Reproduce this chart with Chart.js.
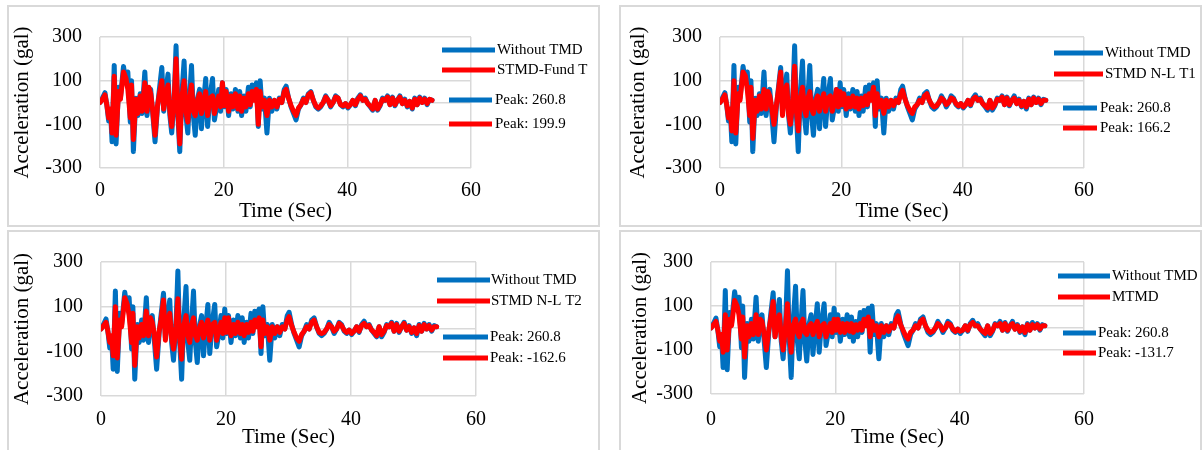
<!DOCTYPE html>
<html>
<head>
<meta charset="utf-8">
<script src="https://cdn.jsdelivr.net/npm/chart.js@4.4.0/dist/chart.umd.min.js"></script>
<style>
  body { margin: 0; background: #fff; width: 1202px; height: 450px; overflow: hidden; position: relative; }
  .panel { position: absolute; box-sizing: border-box; border: 2px solid #d9d9d9; background: #fff; }
  .panel canvas { position: absolute; left: 0; top: 0; }
</style>
</head>
<body>
<div class="panel" id="p0"><canvas id="c0"></canvas></div>
<div class="panel" id="p1"><canvas id="c1"></canvas></div>
<div class="panel" id="p2"><canvas id="c2"></canvas></div>
<div class="panel" id="p3"><canvas id="c3"></canvas></div>
<script>
// time of each sample (s), shared by all series
const timeSec = [0,0.4,0.8,1.1,1.4,1.7,1.95,2.3,2.6,3.0,3.3,3.8,4.2,4.5,4.9,5.1,5.4,5.8,6.1,6.5,
  6.8,7.25,7.6,7.9,8.2,8.5,8.9,9.3,9.6,10.0,10.3,10.6,11.0,11.3,11.6,12.0,12.3,12.6,12.9,13.2,
  13.6,13.9,14.2,14.5,14.8,15.1,15.4,15.8,16.1,16.4,16.8,17.1,17.4,17.8,18.2,18.5,18.8,19.2,19.5,19.8,
  20.1,20.4,20.8,21.2,21.5,21.9,22.3,22.6,22.9,23.3,23.6,24.0,24.3,24.6,24.9,25.3,25.6,25.9,26.2,26.6,
  27.0,27.4,27.8,28.2,28.6,29.0,29.4,29.8,30.1,30.5,30.9,31.3,31.7,32.1,32.5,32.9,33.3,33.7,34.1,34.5,
  34.9,35.3,35.7,36.1,36.5,36.9,37.3,37.7,38.1,38.5,38.9,39.3,39.7,40.1,40.5,40.9,41.3,41.7,42.1,42.5,
  42.9,43.3,43.7,44.1,44.5,44.9,45.3,45.7,46.1,46.5,46.9,47.3,47.7,48.1,48.5,48.9,49.3,49.7,50.1,50.5,
  50.9,51.3,51.7,52.1,52.5,52.9,53.3,53.7];

// acceleration (gal)
const withoutTmd = [0,20,45,-10,-85,-40,-180,170,-190,70, 20,165,90,140,-90,100,-225,20,-60,40,
  -50,140,-60,30,60,-40,-180,-20,60,160, -40,40,130,-60,-140,20,260,-60,-225,20,
  190,-60,-140,30,170,-60,-150,20,60,-120, 20,110,-110,30,110,-80,-30,60,-40,90,
  -20,60,-60,40,-30,60,-40,50,-60,30, -40,70,-20,80,20,90,-110,100,-30,20,
  -140,20,-40,10,-30,20,0,60,75,20, -20,-50,-80,-30,-10,20,0,40,50,10,
  -20,-30,-20,0,30,10,-20,0,30,20, -10,-20,-5,-25,-10,10,-15,20,35,10,
  20,-5,-20,-35,10,-35,-15,20,10,30, -10,25,-15,10,30,-5,15,-20,5,-30,
  20,-10,25,0,20,-10,15,10];

const stmdFundT = [0,15,35,-10,-70,-30,-140,120,-150,50, 15,140,110,60,-70,80,-170,15,-50,30,
  -40,90,-40,70,40,-30,-150,-15,40,100, -30,30,80,-40,-110,15,200,-40,-190,15,
  100,-40,-90,20,80,-40,-60,15,40,-50, 10,50,-60,20,30,-50,-10,30,-20,90,
  -15,50,-40,30,-20,40,-30,30,-40,20, -20,40,-10,50,10,60,-100,50,-20,10,
  -60,10,-20,10,-20,15,0,50,60,20, -15,-40,-60,-25,-10,15,0,35,45,10,
  -15,-25,-15,0,25,10,-15,0,25,20, -10,-15,-5,-20,-10,10,-10,15,30,10,
  15,-5,-15,-30,10,-30,-10,15,10,25, -10,20,-10,10,25,-5,10,-15,5,-25,
  15,-10,20,0,15,-5,15,10];

const stmdNLT1 = [0,15,35,-10,-70,-30,-130,100,-140,40, 10,140,120,60,-60,70,-165,10,-40,30,
  -30,60,-30,50,30,-20,-100,-10,50,140, -60,30,80,-50,-100,10,166,-40,-130,10,
  70,-30,-60,20,50,-30,-50,10,30,-40, 10,40,-40,20,30,-40,-10,60,-20,50,
  -10,40,-30,20,-20,30,-20,20,-30,20, -15,30,-10,40,10,70,-60,40,-20,10,
  -50,10,-20,10,-15,10,0,40,55,15, -15,-35,-50,-20,-10,10,0,30,40,10,
  -10,-20,-15,0,20,10,-10,0,20,15, -5,-15,-5,-20,-10,10,-10,15,25,10,
  15,-5,-15,-25,10,-25,-10,15,10,25, -10,20,-10,10,20,-5,10,-15,5,-20,
  15,-10,20,0,15,-5,10,10];

const stmdNLT2 = [0,15,30,-10,-60,-30,-120,100,-130,40, 10,140,110,60,-60,70,-163,10,-40,20,
  -30,80,-30,50,30,-20,-125,-10,40,130, -50,30,70,-40,-90,10,135,-40,-135,10,
  60,-30,-60,20,50,-30,-50,10,30,-40, 10,40,-50,20,30,-50,-10,30,-20,50,
  -15,50,-30,20,-20,30,-20,20,-30,20, -15,30,-10,40,10,50,-80,40,-20,10,
  -50,10,-20,10,-15,10,0,40,55,15, -15,-40,-55,-25,-10,10,0,30,40,10,
  -15,-20,-15,0,20,10,-10,0,25,15, -5,-15,-5,-20,-10,10,-10,15,25,10,
  15,-5,-15,-30,10,-25,-10,15,10,25, -10,20,-10,10,25,-5,10,-15,5,-20,
  15,-10,20,0,15,-5,10,10];

const mtmd = [0,15,30,-10,-60,-30,-110,60,-100,40, 10,125,100,60,-50,50,-132,10,-40,20,
  -30,60,-30,40,30,-20,-100,-10,40,120, -40,20,60,-40,-100,10,110,-30,-110,10,
  40,-20,-40,20,40,-20,-30,10,20,-30, 10,30,-40,10,20,-40,-10,20,-20,40,
  -10,40,-20,20,-20,20,-15,20,-20,15, -10,20,-10,40,10,50,-40,30,-10,10,
  -40,10,-20,10,-15,10,0,40,55,15, -10,-35,-50,-20,-10,10,0,30,40,10,
  -10,-20,-15,0,20,10,-10,0,20,15, -5,-15,-5,-15,-10,10,-10,15,25,10,
  10,-5,-15,-25,10,-25,-10,15,10,20, -10,20,-10,10,20,-5,10,-15,5,-20,
  15,-10,15,0,15,-5,10,10];

const xTicks = [0, 20, 40, 60];
const yTicks = [-300, -100, 0, 100, 300];
const yTickLabels = ["-300", "-100", "", "100", "300"];
const redNames = ["STMD-Fund T", "STMD N-L T1", "STMD N-L T2", "MTMD"];
const peakLabels = [["Peak: 260.8", "Peak: 199.9"], ["Peak: 260.8", "Peak: 166.2"],
                    ["Peak: 260.8", "Peak: -162.6"], ["Peak: 260.8", "Peak: -131.7"]];

const BLUE = "#0070C0";
const RED = "#FF0000";
const GRID = "#d9d9d9";
const SERIF = "'Liberation Serif', 'Times New Roman', serif";

// page layout, absolute pixels
const panels = [
  { box: [7, 5, 600, 227], plot: [100, 24, 471, 168], tickY: 189, titleY: 211, titleX: 22, red: stmdFundT,
    leg: { x1: 442, x2: 495, tx: 497, px1: 449, px2: 492, ptx: 495, ys: [50, 70, 100, 124] } },
  { box: [619, 5, 1202, 227], plot: [720, 25, 1084, 168], tickY: 189, titleY: 211, titleX: 638, red: stmdNLT1,
    leg: { x1: 1054, x2: 1103, tx: 1105, px1: 1063, px2: 1097, ptx: 1100, ys: [53, 74, 108, 128] } },
  { box: [7, 230, 600, 452], plot: [101, 252, 476, 396], tickY: 418, titleY: 437, titleX: 22, red: stmdNLT2,
    leg: { x1: 437, x2: 490, tx: 491, px1: 443, px2: 488, ptx: 490, ys: [280, 301, 337, 358] } },
  { box: [619, 230, 1202, 452], plot: [711, 250, 1084, 394], tickY: 418, titleY: 437, titleX: 640, red: mtmd,
    leg: { x1: 1058, x2: 1110, tx: 1112, px1: 1063, px2: 1096, ptx: 1098, ys: [276, 297, 333, 353] } }
];

function toPoints(values) {
  return timeSec.map((t, i) => ({ x: t, y: values[i] }));
}

function makePanel(idx) {
  const p = panels[idx];
  const div = document.getElementById("p" + idx);
  div.style.left = p.box[0] + "px";
  div.style.top = p.box[1] + "px";
  div.style.width = (p.box[2] - p.box[0]) + "px";
  div.style.height = (p.box[3] - p.box[1]) + "px";

  const ox = p.box[0] + 2, oy = p.box[1] + 2;
  const w = p.box[2] - p.box[0] - 4, h = p.box[3] - p.box[1] - 4;
  const canvas = document.getElementById("c" + idx);
  canvas.width = w;
  canvas.height = h;

  const tickSize = 20, titleSize = 21;
  const plotL = p.plot[0] - ox, plotT = p.plot[1] - oy, plotR = p.plot[2] - ox, plotB = p.plot[3] - oy;
  const xAxisH = (p.titleY - p.plot[3]) + titleSize * 0.6;
  const yTitlePad = p.titleX - ox - titleSize * 0.6;

  const legendPlugin = {
    id: "panelLegend",
    afterDraw(chart) {
      const ctx = chart.ctx;
      const L = p.leg;
      const rows = [
        [L.x1, L.x2, L.tx, BLUE, "Without TMD"],
        [L.x1, L.x2, L.tx, RED, redNames[idx]],
        [L.px1, L.px2, L.ptx, BLUE, peakLabels[idx][0]],
        [L.px1, L.px2, L.ptx, RED, peakLabels[idx][1]]
      ];
      ctx.save();
      ctx.font = "15px " + SERIF;
      ctx.textBaseline = "middle";
      ctx.fillStyle = "#000";
      ctx.lineWidth = 5;
      rows.forEach((r, i) => {
        const y = L.ys[i] - oy;
        ctx.strokeStyle = r[3];
        ctx.beginPath();
        ctx.moveTo(r[0] - ox, y);
        ctx.lineTo(r[1] - ox, y);
        ctx.stroke();
        ctx.fillText(r[4], r[2] - ox, y);
      });
      ctx.restore();
    }
  };

  new Chart(canvas, {
    type: "line",
    data: {
      datasets: [
        { label: redNames[idx], data: toPoints(p.red), borderColor: RED, borderWidth: 5, order: 0 },
        { label: "Without TMD", data: toPoints(withoutTmd), borderColor: BLUE, borderWidth: 5, order: 1 }
      ]
    },
    options: {
      responsive: false,
      animation: false,
      elements: { point: { radius: 0 }, line: { tension: 0, borderJoinStyle: "round", borderCapStyle: "round" } },
      layout: { padding: { left: 0, top: plotT, right: w - plotR, bottom: h - plotB - xAxisH } },
      plugins: { legend: { display: false }, tooltip: { enabled: false } },
      scales: {
        x: {
          type: "linear", min: 0, max: 60,
          afterBuildTicks: (s) => { s.ticks = xTicks.map(v => ({ value: v })); },
          afterFit: (s) => { s.height = xAxisH; },
          grid: { color: GRID, lineWidth: 1.5, drawTicks: false },
          border: { display: false },
          ticks: { font: { family: SERIF, size: tickSize }, color: "#000", padding: (p.tickY - p.plot[3]) - 10, maxRotation: 0 },
          title: { display: true, text: "Time (Sec)", font: { family: SERIF, size: titleSize }, color: "#000", padding: 0 }
        },
        y: {
          min: -300, max: 300,
          afterBuildTicks: (s) => { s.ticks = yTicks.map(v => ({ value: v })); },
          afterFit: (s) => { s.width = plotL; },
          grid: { color: GRID, lineWidth: 1.5, drawTicks: false },
          border: { display: false },
          ticks: {
            font: { family: SERIF, size: tickSize }, color: "#000", padding: 18,
            callback: (v) => yTickLabels[yTicks.indexOf(v)]
          },
          title: { display: true, text: "Acceleration (gal)", font: { family: SERIF, size: titleSize }, color: "#000",
                   padding: { top: yTitlePad, bottom: 0 } }
        }
      }
    },
    plugins: [legendPlugin]
  });
}

panels.forEach((p, i) => makePanel(i));
</script>
</body>
</html>
